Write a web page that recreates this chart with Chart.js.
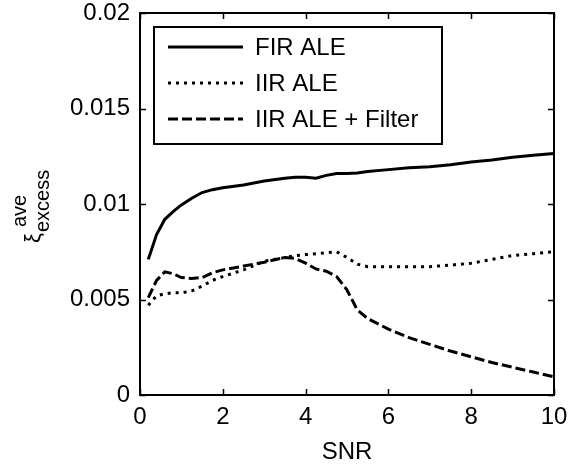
<!DOCTYPE html>
<html>
<head>
<meta charset="utf-8">
<script src="https://cdn.jsdelivr.net/npm/chart.js@4"></script>
<style>
  body { margin: 0; background: #fff; }
  canvas { display: block; }
</style>
</head>
<body>
<canvas id="aleChart" width="578" height="467"></canvas>
<script>
// values (y values in units of 1e-3)
const snr = [0.2, 0.4, 0.6, 0.8, 1, 1.25, 1.5, 1.75, 2, 2.5, 3, 3.5, 3.75, 4, 4.25, 4.5, 4.75, 5, 5.25, 5.5, 6, 6.5, 7, 7.5, 8, 8.5, 9, 9.5, 10];
const firAle = [7.1, 8.4, 9.2, 9.6, 9.95, 10.3, 10.6, 10.75, 10.85, 11.0, 11.2, 11.35, 11.4, 11.4, 11.35, 11.5, 11.6, 11.6, 11.62, 11.7, 11.8, 11.9, 11.95, 12.05, 12.2, 12.3, 12.45, 12.55, 12.65];
const iirAle = [4.7, 5.2, 5.3, 5.35, 5.35, 5.45, 5.7, 6.0, 6.2, 6.55, 7.0, 7.2, 7.3, 7.35, 7.4, 7.45, 7.5, 7.2, 6.85, 6.72, 6.72, 6.72, 6.72, 6.8, 6.9, 7.1, 7.3, 7.4, 7.5];
const iirAleFilter = [5.1, 6.0, 6.45, 6.35, 6.15, 6.1, 6.15, 6.4, 6.55, 6.75, 6.95, 7.2, 7.15, 6.9, 6.6, 6.48, 6.2, 5.5, 4.45, 4.0, 3.45, 3.0, 2.65, 2.3, 2.0, 1.7, 1.45, 1.2, 0.95];
const seriesNames = ['FIR ALE', 'IIR ALE', 'IIR ALE + Filter'];
const xTicks = [0, 2, 4, 6, 8, 10];
const yTicks = [0, 0.005, 0.01, 0.015, 0.02];

const FONT = '"Liberation Sans", Arial, sans-serif';

function toPoints(vals) {
    return snr.map((x, i) => ({ x: x, y: vals[i] / 1000 }));
}

const boxAndTicks = {
    id: 'boxAndTicks',
    afterDraw(chart) {
        const ctx = chart.ctx;
        const a = chart.chartArea;
        const xs = chart.scales.x, ys = chart.scales.y;
        ctx.save();
        ctx.strokeStyle = '#000';
        ctx.lineWidth = 2;
        ctx.strokeRect(a.left, a.top, a.right - a.left, a.bottom - a.top);
        ctx.beginPath();
        xTicks.forEach(v => {
            const px = Math.round(xs.getPixelForValue(v)) + 0.5;
            ctx.moveTo(px, a.bottom); ctx.lineTo(px, a.bottom - 6);
            ctx.moveTo(px, a.top); ctx.lineTo(px, a.top + 6);
        });
        yTicks.forEach(v => {
            const py = Math.round(ys.getPixelForValue(v)) + 0.5;
            ctx.moveTo(a.left, py); ctx.lineTo(a.left + 6, py);
            ctx.moveTo(a.right, py); ctx.lineTo(a.right - 6, py);
        });
        ctx.lineWidth = 1.5;
        ctx.stroke();

        // legend box
        const lx = 154, ly = 27, lw = 288, lh = 117;
        ctx.fillStyle = '#fff';
        ctx.fillRect(lx, ly, lw, lh);
        ctx.lineWidth = 2;
        ctx.strokeRect(lx, ly, lw, lh);
        ctx.font = '24px ' + FONT;
        ctx.textBaseline = 'middle';
        ctx.fillStyle = '#000';
        const rows = [47, 83, 119];
        chart.data.datasets.forEach((ds, i) => {
            ctx.beginPath();
            ctx.setLineDash(ds.borderDash || []);
            ctx.lineWidth = ds.borderWidth;
            ctx.moveTo(168, rows[i]);
            ctx.lineTo(243, rows[i]);
            ctx.stroke();
            ctx.setLineDash([]);
            ctx.fillText(ds.label, 255, rows[i] + 1);
        });

        // y axis title: xi with superscript "ave" and subscript "excess"
        ctx.translate(40, 243);
        ctx.rotate(-Math.PI / 2);
        ctx.textBaseline = 'alphabetic';
        ctx.font = '22px ' + FONT;
        ctx.fillText('ξ', 0, 0);
        ctx.font = '20px ' + FONT;
        ctx.fillText('ave', 16, -14);
        ctx.fillText('excess', 11, 9);
        ctx.restore();
    }
};

new Chart(document.getElementById('aleChart'), {
    type: 'scatter',
    data: {
        datasets: [
            { label: seriesNames[0], data: toPoints(firAle), borderColor: '#000', borderWidth: 3, showLine: true, pointRadius: 0 },
            { label: seriesNames[1], data: toPoints(iirAle), borderColor: '#000', borderWidth: 3, borderDash: [3, 5], showLine: true, pointRadius: 0 },
            { label: seriesNames[2], data: toPoints(iirAleFilter), borderColor: '#000', borderWidth: 3, borderDash: [10, 4], showLine: true, pointRadius: 0 }
        ]
    },
    options: {
        responsive: false,
        animation: false,
        layout: { padding: { top: 13, right: 24, left: 0, bottom: 0 } },
        plugins: { legend: { display: false }, tooltip: { enabled: false } },
        scales: {
            x: {
                type: 'linear', min: 0, max: 10,
                grid: { display: false, drawTicks: false },
                border: { display: false },
                ticks: { stepSize: 2, padding: 8, color: '#000', font: { family: FONT, size: 24 } },
                title: { display: true, text: 'SNR', color: '#000', font: { family: FONT, size: 24 }, padding: { top: 2, bottom: 0 } },
                afterFit(s) { s.height = 72; s.paddingLeft = 0; s.paddingRight = 0; }
            },
            y: {
                min: 0, max: 0.02,
                grid: { display: false, drawTicks: false },
                border: { display: false },
                ticks: {
                    stepSize: 0.005, padding: 10, color: '#000', font: { family: FONT, size: 24 },
                    callback: v => String(parseFloat(v.toFixed(4)))
                },
                afterFit(s) { s.width = 140; s.paddingTop = 0; s.paddingBottom = 0; }
            }
        }
    },
    plugins: [boxAndTicks]
});
</script>
</body>
</html>
